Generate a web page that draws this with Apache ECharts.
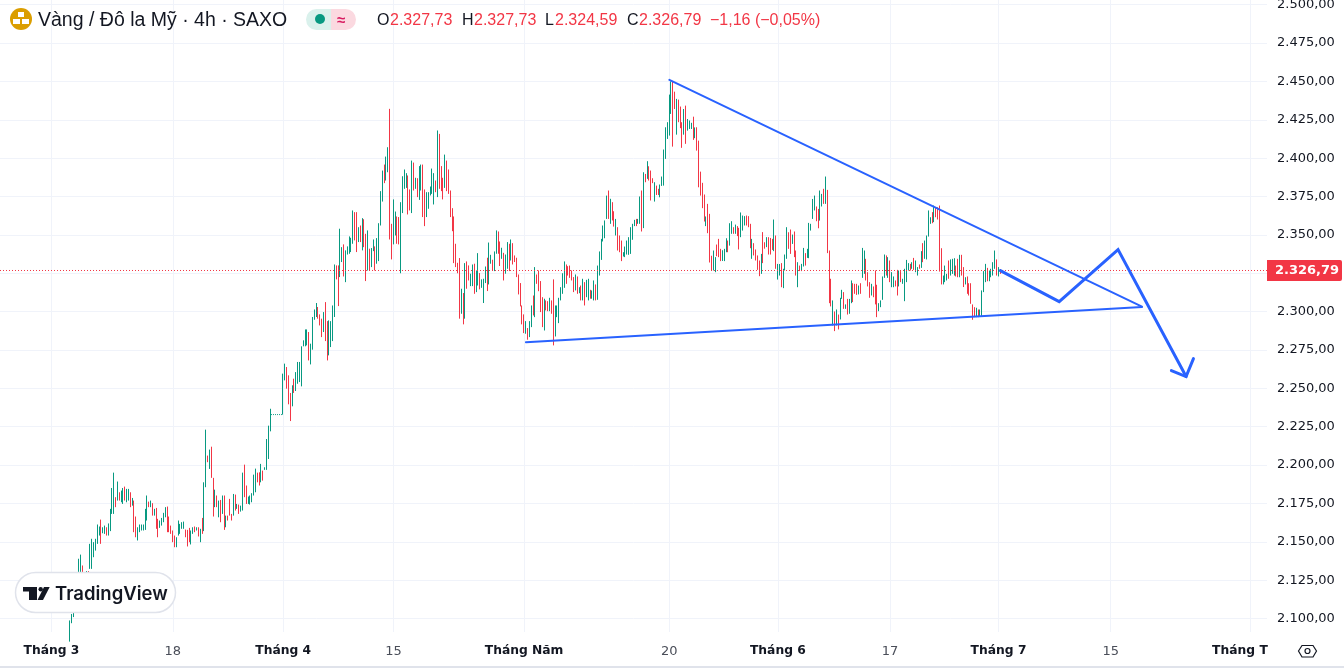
<!DOCTYPE html>
<html>
<head>
<meta charset="utf-8">
<title>Vàng / Đô la Mỹ</title>
<style>
  html, body { margin: 0; padding: 0; background: #fff; }
  #chart { width: 1344px; height: 668px; }
</style>
<script src="https://cdn.jsdelivr.net/npm/echarts@6/dist/echarts.min.js"></script>
</head>
<body>
<div id="chart"></div>
<script>
// 4h gold bars. A bar is a 1px stroke at this zoom so
// only its high, low and direction can be seen.
const firstBar = 38
const barCount = 690

const highs = [
  2098.8,2103,2109,2118,2125,2139,2141.7,2134.6,2130,2131,
  2131,2148.7,2152,2149.8,2152,2161.3,2160,2164.5,2159.5,2160.6,
  2159.5,2162,2171.5,2185.1,2195.1,2179.1,2189.3,2182.3,2183.4,2185.1,
  2186,2184.5,2184.5,2182.3,2178.6,2176.9,2166.5,2159.5,2161.3,2161.3,
  2161.3,2171.5,2180.2,2176.2,2176.9,2175.2,2171.5,2172.1,2165,2163.9,
  2165.6,2168.9,2172.6,2173,2166.5,2160.6,2157.4,2154.1,2153,2163.9,
  2161.7,2162.8,2163.2,2158,2157.8,2159.1,2157.4,2159.5,2160,2159.5,
  2159.5,2158.5,2165.6,2188.8,2223.1,2206.2,2210.1,2212,2191.7,2184,
  2180.2,2176.9,2177.3,2180.2,2180.2,2167.1,2167.1,2178,2168.2,2181.2,
  2180.8,2174.7,2174.3,2173.6,2195.1,2200.3,2186.7,2179.5,2180.2,2181.7,
  2193.8,2197.7,2195.1,2195.3,2200.8,2196.4,2198.6,2217,2225.7,2236.7,
  2233.2,2233.2,2233.2,2233.2,2233.2,2233.2,
  2259.6,2266.1,2263.9,2258.5,2247,2252,2256.3,2260.6,2267.2,2267.2,
  2277.4,2281.3,2288.4,2288.4,2286.7,2279.1,2296.5,2301.4,2305.6,2303,
  2298.2,2295.4,2299.7,2306.2,2293.8,2294.3,2293.8,2304,2330.7,2330.1,
  2330.1,2354,2342,2343.8,2339.9,2342.5,2349,2348.1,2365.9,2364.8,
  2364.8,2355,2356.1,2360.9,2360.2,2350.7,2352.9,2341,2341.4,2347,
  2342.5,2347.9,2357.6,2378.5,2391.9,2395.8,2401,2407.1,2432.1,2357.2,
  2373.1,2365.2,2362,2361.6,2371.3,2388.2,2392.6,2390.2,2388.7,2379.6,
  2398.4,2397.1,2387.2,2386.9,2394.8,2395.8,2395.8,2379.6,2377.8,2377.8,
  2381.5,2393.2,2390.2,2385.4,2418,2415.8,2394.8,2387.2,2402.3,2398.4,
  2392.6,2378.9,2367.4,2362,2344.2,2331.8,2334.9,2314.9,2312.1,2331.6,
  2332.7,2330.1,2324.7,2330.7,2331.2,2326.8,2338.1,2325.1,2321,2321.4,
  2329.4,2335.1,2345,2337,2333.8,2339.2,2352.9,2352.2,2345.7,2341.6,
  2338.3,2337.2,2345.3,2344.2,2347,2344.6,2336.6,2335.1,2324.2,2318.6,
  2304,2298.2,2293.8,2289.3,2293.8,2304,2310.5,2329,2324.2,2326.8,
  2319.9,2309.4,2308.4,2307.3,2306.8,2309,2307.3,2321,2304,2304,
  2309,2315.9,2325,2332.7,2330.7,2329.6,2330,2326.8,2322.5,2324.2,
  2322.9,2315.9,2317,2321.4,2319.2,2320.7,2321.4,2314.2,2313.8,2320.3,
  2317.7,2330,2339.2,2347.4,2356.1,2359.4,2375.6,2378.9,2373.5,2371.3,
  2365.4,2360.4,2355,2349.6,2346.3,2338.7,2342.4,2346.3,2348.5,2355,
  2357.2,2359.8,2360.4,2360.4,2375,2378.9,2390.8,2389.7,2398,2394.7,
  2391.9,2386.9,2384.3,2382.1,2380,2382.8,2388,2405.6,2420.1,2423.4,
  2441.4,2450,2450,2443.3,2438.6,2438.1,2433.6,2423.4,2432,2434.2,
  2425.5,2424.5,2423,2427,2420,2420.1,2411.4,2391.2,2383.9,2376.3,
  2362,2370.2,2363.7,2336.4,2339.8,2335.5,2343.7,2347.4,2340.9,2340,
  2340.9,2347.8,2346.3,2357.6,2358.9,2355,2356.7,2355.7,2354.6,2364.6,
  2362.6,2362.2,2362.6,2362.2,2357.2,2347.4,2344.6,2340.5,2336.6,2333.3,
  2337.6,2351.8,2345.2,2348.5,2348.5,
  2348,2347.4,2360,2349.6,2331.1,2331,2331.6,2327.9,2337.2,2355,
  2351.7,2353.5,2350.2,2352.2,2339.8,2332.2,2330,2331.1,2341.5,2338.1,
  2340.9,2357.8,2357.2,2373.4,2375.6,2368.5,2366.9,2378.9,2376.7,2380,
  2388,2379.3,2339.8,2321.4,2307.3,2300.1,2301.4,2298.1,2309,2314.2,
  2312.7,2304.7,2308.3,2308.3,2320.3,2318.5,2318.1,2318.1,2317,2318.5,
  2341.5,2339.8,2334.4,2325.7,2319.2,2318.1,2316.4,2326.8,2317.5,2305.5,
  2307.3,2322.9,2337.2,2336.6,2335.5,2333.3,2325.7,2322.9,2320.3,2327.2,
  2326.8,2326.4,2321.4,2327.9,2333.7,2331.6,2331.1,2332.2,2335,2333.3,
  2329,2330.7,2339.4,2344.6,2346.3,2349.6,2365.9,2361.5,2364.8,2369.1,
  2368,2368,2369.1,2341.3,2323.5,2330,2324.6,2333.3,2334,2334.4,
  2334.8,2330,2334.4,2337,2337,2329,2322.4,2322.9,2318.5,2318.5,
  2304.7,2302.9,2302.5,2301.4,2301.4,2313.8,2326.4,2331.1,2328.5,2326.8,
  2327.9,2332.2,2339.8,2334,2329,2327.73
]

const lows = [
  2085,2097,2101,2107,2116,2122,2130,2126,2122,2124,
  2126,2132.4,2132.4,2140,2144.3,2148.7,2154.1,2148.7,2155.6,2155.2,
  2154.1,2154.1,2157,2168.2,2168.2,2172.6,2176.9,2176.9,2175.8,2174.7,
  2176.9,2175.8,2176.9,2172.6,2173.6,2156.3,2153,2150.9,2156.3,2157.4,
  2157.4,2157.8,2163.9,2172.6,2172.6,2167.1,2167.1,2158.5,2153,2159.1,
  2160.6,2162.8,2166,2156.3,2156.3,2155.2,2149.8,2146.5,2146.5,2154.1,
  2155.2,2158.5,2158.5,2153,2147,2149.8,2148.3,2155.2,2156.3,2157.4,
  2153.5,2149.8,2155.2,2157,2185.6,2201.9,2197.5,2191.7,2166.5,2172.6,
  2172.6,2166,2162.8,2168.2,2157.8,2159.5,2163.9,2167.1,2163.9,2167.1,
  2170.4,2171.5,2168.2,2169.7,2170.4,2179.1,2174.7,2174.7,2174.3,2175.8,
  2180.2,2182.3,2188.8,2186.7,2188.8,2189.9,2196.9,2196.9,2204,2222,
  2232.6,2232.6,2232.6,2232.6,2232.6,2232.6,
  2232.9,2255.2,2249.8,2239.6,2228.7,2238.3,2247,2248.3,2253,2254.1,
  2251.3,2277.4,2277.4,2278,2268.2,2265.6,2275.2,2294.7,2296.5,2295.4,
  2291,2283.4,2286.7,2280.8,2268.2,2271.5,2276.9,2280.8,2296.5,2321,
  2303.6,2322.5,2332.3,2322.9,2319.2,2337.2,2337.7,2338.8,2344.2,2346.4,
  2338.8,2345.3,2345.3,2339.9,2342,2319.9,2326.8,2326.8,2329,2339.4,
  2326.8,2331.2,2332.9,2356.1,2371.7,2383.7,2385.4,2390.8,2347,2334,
  2343.8,2349.6,2344.2,2343.8,2325,2364.2,2380,2380.6,2363.3,2365.9,
  2364.2,2378.9,2380,2374.6,2372.8,2378.9,2361.6,2355.7,2361.6,2367,
  2375.7,2376.7,2369.8,2377.8,2374.6,2380,2378.5,2373.1,2380.6,2378.5,
  2376.7,2361.6,2352.4,2331.6,2329,2325,2295.4,2298.6,2291.7,2295.4,
  2314.9,2320.3,2316.6,2316.6,2311.6,2312.7,2317,2314.5,2315.5,2305.6,
  2318.6,2313.4,2317.7,2331.2,2326.8,2326.4,2337.7,2337.7,2329.7,2334.4,
  2320.3,2324.7,2327.9,2326.4,2333.3,2330.7,2332.3,2322.5,2311.2,2303.4,
  2291.7,2286,2285.6,2281.7,2283.4,2289.9,2297.5,2296.4,2318.1,2313.3,
  2299.7,2289.9,2287.7,2300.8,2300.3,2300.3,2298.6,2278,2283.8,2296.4,
  2292.5,2307.3,2311.6,2315.5,2318.1,2323.5,2322,2320.3,2312.7,2313.8,
  2311.6,2312,2307.3,2307.3,2304,2309.4,2307.3,2308.4,2308.4,2307.3,
  2307.3,2307.7,2323.5,2333.7,2345.7,2347.8,2360.4,2360.4,2357.2,2359.4,
  2355.4,2349.6,2339.8,2338.7,2332.9,2335.9,2335.5,2337.2,2337,2337.6,
  2346.8,2355.7,2355.7,2357.2,2357.2,2352.2,2354.4,2384.3,2386.5,2385.4,
  2372.4,2383.7,2371.7,2376,2376,2374.5,2381.9,2382.1,2399.5,2412.5,
  2414.7,2428.8,2407.5,2432,2415.3,2423.4,2419.5,2406.7,2415.3,2409.3,
  2417.9,2419,2419,2411.9,2413,2404.9,2381,2375.6,2367.4,2358.7,
  2355.7,2351.1,2332,2326.8,2326.8,2325.7,2336.1,2335.5,2332.9,2333,
  2332.9,2338.7,2338.7,2343,2350.7,2350.7,2350.7,2349.2,2340.5,2348.5,
  2352.8,2356.1,2356.1,2355,2341.3,2334.4,2336.6,2333.3,2327.2,2323.1,
  2324.6,2331.6,2341,2342,2337.2,
  2337.2,2340.2,2339.4,2327.9,2320.9,2323.5,2315.9,2315.3,2326.8,2334.4,
  2340.9,2337.6,2344.1,2335.5,2323.5,2315.9,2326.4,2326.4,2329.4,2330,
  2335,2334.8,2352.8,2360.4,2365.9,2358.9,2354.3,2359.3,2368.5,2370.2,
  2370.2,2338.1,2305.5,2303.4,2291,2287.3,2291,2288.4,2294.9,2308.3,
  2301.8,2301.8,2298.1,2298.6,2305.5,2306.2,2311.6,2310.9,2311.2,2311.6,
  2322,2324.6,2320.3,2316.4,2309,2310.5,2309.4,2304.7,2296.4,2300.3,
  2302.9,2307.7,2322,2323.5,2322,2319.2,2315.9,2315.9,2316.4,2310.5,
  2316.4,2319.2,2318.1,2306.8,2319.2,2326.8,2326.8,2327.9,2327.2,2325.7,
  2323.5,2327.9,2328.5,2332.2,2334.4,2334,2348.9,2357.2,2357.6,2358.3,
  2361.5,2360,2326.1,2317.7,2317.7,2319.2,2320.3,2321.4,2323.5,2324.6,
  2323.5,2322.9,2322.4,2322.4,2323.5,2316,2317.7,2311.6,2310.5,2305.1,
  2294.7,2296.4,2296.4,2296.4,2297,2296.8,2312.7,2319.2,2319.8,2319.8,
  2322.4,2323.5,2327.9,2323.5,2322.9,2324.59
]

// u = closed up (green), d = closed down (red), same rows as above
const barDirs = [
  'uuuuuuuduu','duuuuuuduu','duuuududuu','duududduuu','uuudududdu',
  'uuuddddduu','uuuddduudu','duduududdu','dudududddu','duduudduuu',
  'uudduduuuu','uuuuuu',
  'uuddduduuu','uuuuduuuud','ddudduuuud','duuduuuuud','dududduduu',
  'duuuuduudd','uudduuuudd','ududuudduu','uuududddud','dddddddudu',
  'dduuduuduu','uduuduuddu','duududdddd','dduduududd','dduddudduu',
  'uuuudddddu','dududuuduu','duuuuuudud','duddduuuuu','uuduududud',
  'ddudduuuuu','uuddudddud','uuududdddd','uddduudddu','uuduududdu',
  'uudddudddd','uddud',
  'dduduuduuu','ddudduduud','uuuuudduud','udddududuu','duduudddud',
  'uudddudddu','uuududuudd','uduuuududu','ududuuuudu','dddduuuduu',
  'uddudduddd','dduduuuudu','uuudud'
].join('')

const categories = Array.from({ length: barCount }, (_, i) => String(i))

const lastClose = 2326.79
const priceTicks = [2100,2125,2150,2175,2200,2225,2250,2275,2300,2325,2350,2375,2400,2425,2450,2475,2500]
// 2.325,00 sits under the red price tag
const priceLabels = priceTicks.filter(p => p !== 2325)

const tickBars = [28, 94, 154, 214, 285, 364, 423, 484, 543, 604, 680]
const tickTexts = ['Tháng 3', '18', 'Tháng 4', '15', 'Tháng Năm', '20', 'Tháng 6', '17', 'Tháng 7', '15', 'Tháng T']

// drawn trend lines, [bar, price]
const upperLine = [[364, 2451], [621, 2303.3]]
const lowerLine = [[286, 2280.1], [621, 2303]]
const projection = [[544, 2326.7], [576, 2306.5], [608, 2340.4], [645, 2257.7]]
const arrowHead = [[637, 2261.6], [645, 2257.7], [649, 2269.4]]
const lastPriceLine = [[0, lastClose], [barCount - 1, lastClose]]

const green = '#089981'
const red = '#F23645'
const blue = '#2962FF'
const ink = '#131722'
const gridColor = '#F0F3FA'
const axisFont = '"DejaVu Sans", sans-serif'
const headFont = '"Liberation Sans", Arial, sans-serif'

const candles = highs.map((h, i) => {
  const up = barDirs[i] === 'u'
  return [firstBar + i, up ? lows[i] : h, up ? h : lows[i], lows[i], h]
})

const labelFor = {}
tickBars.forEach((b, i) => { labelFor[b] = tickTexts[i] })

function formatPrice(v) {
  return v.toLocaleString('de-DE', { minimumFractionDigits: 2, maximumFractionDigits: 2 })
}

function trendSeries(points, width) {
  return {
    type: 'line',
    data: points,
    symbol: 'none',
    silent: true,
    z: 5,
    lineStyle: { color: blue, width: width, cap: 'round', join: 'miter' }
  }
}

function headText(x, text, fill, size, weight) {
  return {
    type: 'text',
    x: x,
    y: 21,
    z: 100,
    style: {
      text: text,
      fill: fill,
      font: (weight || 'normal') + ' ' + size + 'px ' + headFont,
      textVerticalAlign: 'middle'
    }
  }
}

const chart = echarts.init(document.getElementById('chart'), null, { renderer: 'canvas' })
chart.setOption({
  animation: false,
  backgroundColor: '#fff',
  grid: { left: 0, right: 77, top: 0, bottom: 36, outerBoundsMode: 'none' },
  xAxis: {
    type: 'category',
    data: categories,
    boundaryGap: false,
    axisLine: { show: false },
    axisTick: { show: false },
    splitLine: {
      show: true,
      interval: i => labelFor[i] !== undefined,
      lineStyle: { color: gridColor, width: 1 }
    },
    axisLabel: {
      interval: i => labelFor[i] !== undefined,
      margin: 13,
      formatter: v => {
        const t = labelFor[v]
        if (t === 'Tháng T') return '{end|' + t + '}'
        return /Tháng/.test(t) ? '{m|' + t + '}' : '{d|' + t + '}'
      },
      rich: {
        m: { fontFamily: axisFont, fontWeight: 'bold', fontSize: 12.3, color: ink },
        d: { fontFamily: axisFont, fontSize: 13, color: '#4A4E59' },
        end: { fontFamily: axisFont, fontWeight: 'bold', fontSize: 12.3, color: ink, padding: [0, 21, 0, 0] }
      }
    }
  },
  yAxis: {
    type: 'value',
    position: 'right',
    min: 2091.27,
    max: 2503.02,
    axisLine: { show: false },
    axisTick: { show: false, customValues: priceTicks },
    splitLine: { show: true, lineStyle: { color: gridColor, width: 1 } },
    axisLabel: {
      customValues: priceLabels,
      margin: 10,
      color: ink,
      fontFamily: axisFont,
      fontSize: 13,
      formatter: formatPrice
    }
  },
  series: [
    {
      type: 'candlestick',
      data: candles,
      encode: { x: 0, y: [1, 2, 3, 4] },
      barWidth: 0,
      silent: true,
      z: 3,
      itemStyle: {
        color: green,
        color0: red,
        borderColor: green,
        borderColor0: red,
        borderWidth: 1
      }
    },
    {
      type: 'line',
      data: lastPriceLine,
      symbol: 'none',
      silent: true,
      z: 4,
      lineStyle: { color: red, width: 1, type: [1, 2] },
      endLabel: {
        show: true,
        distance: 0,
        formatter: () => formatPrice(lastClose),
        height: 21,
        lineHeight: 21,
        width: 67,
        padding: [0, 0, 0, 8],
        align: 'left',
        backgroundColor: red,
        borderRadius: [0, 2, 2, 0],
        color: '#fff',
        fontFamily: axisFont,
        fontWeight: 'bold',
        fontSize: 13
      }
    },
    trendSeries(upperLine, 2),
    trendSeries(lowerLine, 2),
    trendSeries(projection, 3),
    trendSeries(arrowHead, 3)
  ],
  graphic: [
    // gold icon
    { type: 'circle', z: 100, shape: { cx: 21, cy: 19, r: 11 }, style: { fill: '#DB9E00' } },
    { type: 'rect', z: 101, shape: { x: 18, y: 12, width: 6, height: 5 }, style: { fill: '#fff' } },
    { type: 'rect', z: 101, shape: { x: 13, y: 19, width: 7, height: 5 }, style: { fill: '#fff' } },
    { type: 'rect', z: 101, shape: { x: 22, y: 19, width: 7, height: 5 }, style: { fill: '#fff' } },
    headText(38, 'Vàng / Đô la Mỹ · 4h · SAXO', ink, 19.5),
    // market status pill
    { type: 'rect', z: 100, shape: { x: 306, y: 9, width: 30, height: 21, r: [10.5, 0, 0, 10.5] }, style: { fill: '#DAF1EC' } },
    { type: 'rect', z: 100, shape: { x: 331, y: 9, width: 25, height: 21, r: [0, 10.5, 10.5, 0] }, style: { fill: '#FBD9E0' } },
    { type: 'circle', z: 101, shape: { cx: 320, cy: 19, r: 5 }, style: { fill: green } },
    headText(337, '≈', '#D81B60', 15, 'bold'),
    // OHLC read-out
    headText(377, 'O', ink, 16),
    headText(390, '2.327,73', red, 16),
    headText(462, 'H', ink, 16),
    headText(474, '2.327,73', red, 16),
    headText(545, 'L', ink, 16),
    headText(555, '2.324,59', red, 16),
    headText(627, 'C', ink, 16),
    headText(639, '2.326,79', red, 16),
    headText(710, '−1,16 (−0,05%)', red, 16),
    // TradingView badge
    { type: 'rect', z: 100, shape: { x: 15.5, y: 572.5, width: 160, height: 40, r: 20 }, style: { fill: '#fff', stroke: '#E0E3EB', lineWidth: 1.5 } },
    { type: 'polygon', z: 101, shape: { points: [[23, 587], [37, 587], [37, 600], [29, 600], [29, 591.5], [23, 591.5]] }, style: { fill: ink } },
    { type: 'circle', z: 101, shape: { cx: 40.7, cy: 589.2, r: 2.2 }, style: { fill: ink } },
    { type: 'polygon', z: 101, shape: { points: [[44, 587], [49.7, 587], [43, 600], [37.5, 600]] }, style: { fill: ink } },
    {
      type: 'text', z: 101, x: 55, y: 594,
      style: { text: 'TradingView', fill: ink, font: '600 18.5px Inter, sans-serif', textVerticalAlign: 'middle' }
    },
    // settings icon and bottom edge
    { type: 'polygon', z: 100, shape: { points: [[1298.5, 651], [1302, 645.5], [1313, 645.5], [1316.5, 651], [1313, 657], [1302, 657]] }, style: { fill: 'none', stroke: ink, lineWidth: 1.2 } },
    { type: 'circle', z: 100, shape: { cx: 1307.5, cy: 651, r: 2.5 }, style: { fill: 'none', stroke: ink, lineWidth: 1.2 } },
    { type: 'rect', z: 100, shape: { x: 0, y: 666, width: 1344, height: 2 }, style: { fill: '#E0E3EB' } }
  ]
})
</script>
</body>
</html>
